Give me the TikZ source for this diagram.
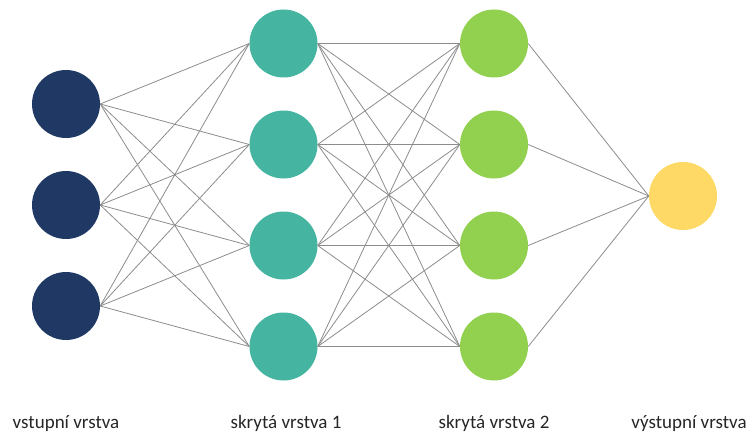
\documentclass[tikz,border=0pt]{standalone}
\usepackage{fontspec}
\setmainfont{Carlito}
\usetikzlibrary{backgrounds}
\definecolor{inputcol}{HTML}{203864}
\definecolor{hiddenA}{HTML}{45B5A2}
\definecolor{hiddenB}{HTML}{92D050}
\definecolor{outputcol}{HTML}{FFD966}
\definecolor{wirecol}{HTML}{8C8C8C}
\tikzset{
  neuron/.style={circle, draw=none, inner sep=0pt, minimum size=68pt},
  wire/.style={draw=wirecol, line width=0.8pt},
  layerlabel/.style={font=\fontsize{19}{22}\selectfont, anchor=base, inner sep=0pt, text=black!85}
}
\begin{document}
\begin{tikzpicture}[x=1pt, y=-1pt]
  \useasboundingbox (0,0) rectangle (751,433);
  % input layer
  \foreach \i/\y in {1/104, 2/205, 3/306}
    \node[neuron, fill=inputcol] (in\i) at (66,\y) {};
  % hidden layer 1
  \foreach \i/\y in {1/43.5, 2/144.5, 3/245.5, 4/346.5}
    \node[neuron, fill=hiddenA] (ha\i) at (283.5,\y) {};
  % hidden layer 2
  \foreach \i/\y in {1/43.5, 2/144.5, 3/245.5, 4/346.5}
    \node[neuron, fill=hiddenB] (hb\i) at (494,\y) {};
  % output layer
  \node[neuron, fill=outputcol] (out) at (683,196) {};

  % connections
  \begin{scope}[on background layer]
    \foreach \i in {1,2,3}
      \foreach \j in {1,2,3,4}
        \draw[wire] (in\i.east) -- (ha\j.west);
    \foreach \i in {1,2,3,4}
      \foreach \j in {1,2,3,4}
        \draw[wire] (ha\i.east) -- (hb\j.west);
    \foreach \i in {1,2,3,4}
      \draw[wire] (hb\i.east) -- (out.west);
  \end{scope}

  % layer labels
  \node[layerlabel] (lin) at (66,428) {vstupní vrstva};
  \node[layerlabel] (lha) at (286,428) {skrytá vrstva 1};
  \node[layerlabel] (lhb) at (494,428) {skrytá vrstva 2};
  \node[layerlabel] (lout) at (689,428) {výstupní vrstva};
\end{tikzpicture}
\end{document}
